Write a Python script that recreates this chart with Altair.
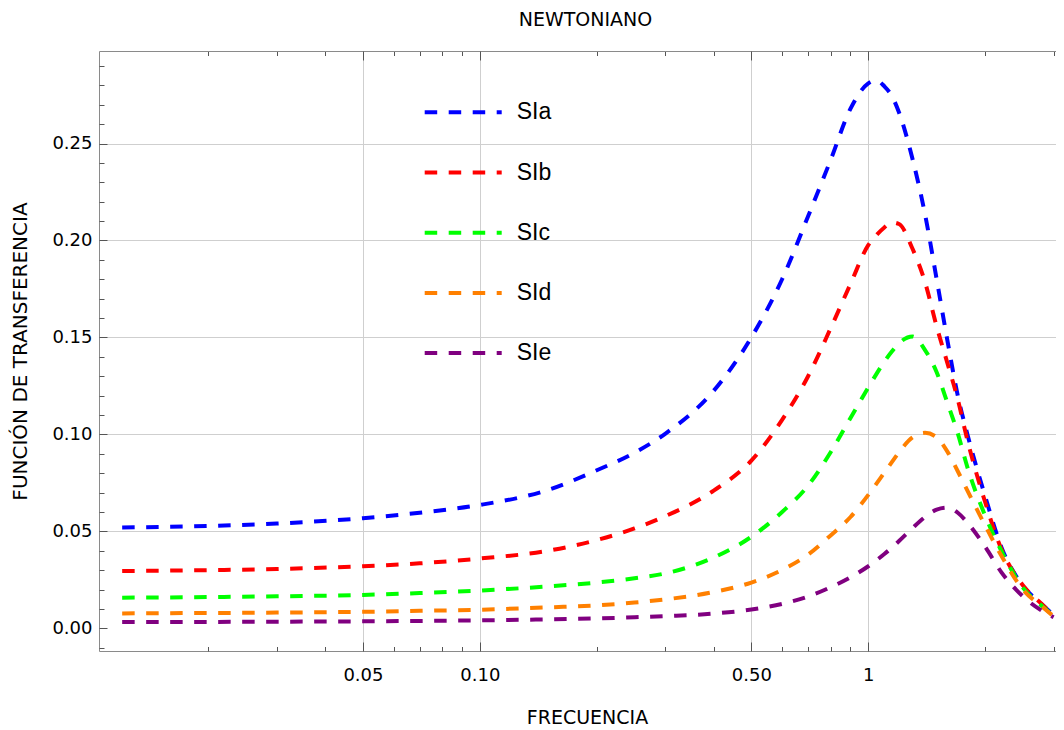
import altair as alt
import pandas as pd

# ---------------- data ----------------
freq = [0.012, 0.02, 0.03, 0.05, 0.07, 0.1, 0.15, 0.2, 0.25, 0.3, 0.4, 0.5, 0.6,
        0.7, 0.8, 0.9, 1.0, 1.05, 1.1, 1.15, 1.2, 1.3, 1.4, 1.5, 1.6, 1.7, 1.8,
        2.0, 2.2, 2.5, 2.8, 3.0]

sia = [0.0520, 0.0528, 0.0540, 0.0568, 0.0596, 0.0636, 0.0714, 0.0815, 0.0905,
       0.1003, 0.1225, 0.1500, 0.1800, 0.2125, 0.2415, 0.2680, 0.2810, 0.2825,
       0.2795, 0.2745, 0.2660, 0.2420, 0.2135, 0.1800, 0.1480, 0.1200, 0.1000,
       0.0680, 0.0420, 0.0220, 0.0123, 0.0068]
sib = [0.0295, 0.0300, 0.0306, 0.0320, 0.0335, 0.0360, 0.0400, 0.0455, 0.0515,
       0.0578, 0.0710, 0.0865, 0.1075, 0.1300, 0.1547, 0.1776, 0.1976, 0.2028,
       0.2067, 0.2093, 0.2085, 0.1957, 0.1785, 0.1556, 0.1365, 0.1180, 0.0970,
       0.0650, 0.0410, 0.0222, 0.0124, 0.0067]
sic = [0.0158, 0.0161, 0.0165, 0.0172, 0.0182, 0.0195, 0.0216, 0.0236, 0.0258,
       0.0283, 0.0365, 0.0472, 0.0600, 0.0736, 0.0908, 0.1085, 0.1242, 0.1312,
       0.1375, 0.1427, 0.1470, 0.1505, 0.1435, 0.1320, 0.1160, 0.1005, 0.0830,
       0.0580, 0.0400, 0.0210, 0.0115, 0.0066]
sid = [0.0077, 0.0079, 0.0081, 0.0085, 0.0090, 0.0096, 0.0108, 0.0118, 0.0133,
       0.0149, 0.0187, 0.0236, 0.0301, 0.0380, 0.0479, 0.0574, 0.0688, 0.0746,
       0.0803, 0.0857, 0.0908, 0.0984, 0.1008, 0.0985, 0.0910, 0.0810, 0.0710,
       0.0530, 0.0375, 0.0200, 0.0112, 0.0062]
sie = [0.0032, 0.0033, 0.0034, 0.0036, 0.0038, 0.0041, 0.0046, 0.0051, 0.0057,
       0.0063, 0.0076, 0.0097, 0.0126, 0.0164, 0.0212, 0.0263, 0.0320, 0.0351,
       0.0383, 0.0416, 0.0450, 0.0517, 0.0574, 0.0612, 0.0622, 0.0596, 0.0545,
       0.0420, 0.0290, 0.0165, 0.0090, 0.0057]

series_names = ["SIa", "SIb", "SIc", "SId", "SIe"]
series_values = [sia, sib, sic, sid, sie]
colors = ["#0000ff", "#ff0000", "#00ff00", "#ff8000", "#800080"]

x_major = [0.05, 0.1, 0.5, 1]
x_minor = [0.02, 0.03, 0.04, 0.06, 0.07, 0.08, 0.09, 0.2, 0.3, 0.4, 0.6, 0.7,
           0.8, 0.9, 2, 3]
y_major = [0.0, 0.05, 0.10, 0.15, 0.20, 0.25]
y_minor = [-0.01, 0.01, 0.02, 0.03, 0.04, 0.06, 0.07, 0.08, 0.09, 0.11, 0.12,
           0.13, 0.14, 0.16, 0.17, 0.18, 0.19, 0.21, 0.22, 0.23, 0.24, 0.26,
           0.27, 0.28, 0.29]

rows = []
for name, vals in zip(series_names, series_values):
    for f, v in zip(freq, vals):
        rows.append({"freq": f, "value": v, "series": name})
df = pd.DataFrame(rows)

# ---------------- styling ----------------
W, H = 957, 600
FONT = "DejaVu Sans"
FRAME = "#8a8a8a"
TICK = "#555555"
GRID = "#cfcfcf"
DASH = [12.5, 11.5]

xs = alt.Scale(type="log", domain=[0.01046, 3.043], nice=False)
ys = alt.Scale(domain=[-0.0117, 0.2977], nice=False, zero=False)

lines = alt.Chart(df).mark_line(
    strokeWidth=4, strokeDash=DASH, interpolate="monotone"
).encode(
    x=alt.X("freq:Q", scale=xs, axis=alt.Axis(
        orient="bottom", values=x_major,
        labelExpr="datum.value == 1 ? '1' : format(datum.value, '.2f')",
        grid=True, gridColor=GRID, gridWidth=1,
        ticks=False, tickSize=0, domain=True, domainColor=FRAME,
        labelFont=FONT, labelFontSize=18, labelColor="black",
        labelPadding=15, labelFlush=False, labelOverlap=False,
        title="FRECUENCIA", titleFont=FONT, titleFontSize=19,
        titleFontWeight="normal", titleColor="black",
        titleX=488, titleY=66, titleBaseline="middle", titleAlign="center")),
    y=alt.Y("value:Q", scale=ys, axis=alt.Axis(
        orient="left", values=y_major, format=".2f",
        grid=True, gridColor=GRID, gridWidth=1,
        gridOpacity={"condition": {"test": "datum.value == 0", "value": 0}, "value": 1},
        ticks=False, tickSize=0, domain=True, domainColor=FRAME,
        labelFont=FONT, labelFontSize=18, labelColor="black", labelPadding=7,
        title="FUNCIÓN DE TRANSFERENCIA", titleFont=FONT, titleFontSize=20,
        titleFontWeight="normal", titleColor="black",
        titleX=-79, titleY=300, titleBaseline="middle", titleAlign="center")),
    color=alt.Color("series:N",
                    scale=alt.Scale(domain=series_names, range=colors),
                    legend=alt.Legend(
                        orient="none", legendX=323.7, legendY=20.8,
                        direction="vertical", title=None, padding=0,
                        symbolType="stroke", symbolSize=5929,
                        symbolStrokeWidth=4, symbolDash=DASH,
                        labelFont="Liberation Sans", labelFontSize=23,
                        labelColor="black", labelOffset=13,
                        rowPadding=7.2)),
)

base = alt.Chart(df).mark_point(opacity=0, size=1)

# inward ticks: bottom (top-oriented axis pushed down) and left (right-oriented axis pushed left)
t_minor_bl = base.encode(
    x=alt.X("freq:Q", scale=xs, axis=alt.Axis(
        orient="top", offset=-H, values=x_minor, tickSize=4.5, tickColor=TICK,
        tickWidth=1, labels=False, domain=False, grid=False, title=None)),
    y=alt.Y("value:Q", scale=ys, axis=alt.Axis(
        orient="right", offset=-W, values=y_minor, tickSize=5, tickColor=TICK,
        tickWidth=1, labels=False, domain=False, grid=False, title=None)),
)
t_major_bl = base.encode(
    x=alt.X("freq:Q", scale=xs, axis=alt.Axis(
        orient="top", offset=-H, values=x_major, tickSize=9, tickColor=TICK,
        tickWidth=1, labels=False, domain=False, grid=False, title=None)),
    y=alt.Y("value:Q", scale=ys, axis=alt.Axis(
        orient="right", offset=-W, values=y_major, tickSize=8, tickColor=TICK,
        tickWidth=1, labels=False, domain=False, grid=False, title=None)),
)
# top frame with inward ticks (bottom-oriented axis pushed up); carries the chart title
t_minor_top = base.encode(
    x=alt.X("freq:Q", scale=xs, axis=alt.Axis(
        orient="bottom", offset=-H, values=x_minor, tickSize=4.5, tickColor=TICK,
        tickWidth=1, labels=False, domain=True, domainColor=FRAME, grid=False,
        title="NEWTONIANO", titleFont=FONT, titleFontSize=19,
        titleFontWeight="normal", titleColor="black",
        titleX=486, titleY=-31.5, titleBaseline="middle", titleAlign="center")),
    y=alt.Y("value:Q", scale=ys, axis=None),
)
t_major_top = base.encode(
    x=alt.X("freq:Q", scale=xs, axis=alt.Axis(
        orient="bottom", offset=-H, values=x_major, tickSize=9, tickColor=TICK,
        tickWidth=1, labels=False, domain=False, grid=False, title=None)),
    y=alt.Y("value:Q", scale=ys, axis=None),
)

chart = alt.layer(
    lines, t_minor_bl, t_major_bl, t_minor_top, t_major_top
).resolve_axis(
    x="independent", y="independent"
).properties(
    width=W, height=H,
    autosize="none",
    padding={"left": 91, "top": 43, "right": 0, "bottom": 75},
).configure_view(stroke=None)

chart.save("out.html", embed_options={"renderer": "svg", "actions": False})
